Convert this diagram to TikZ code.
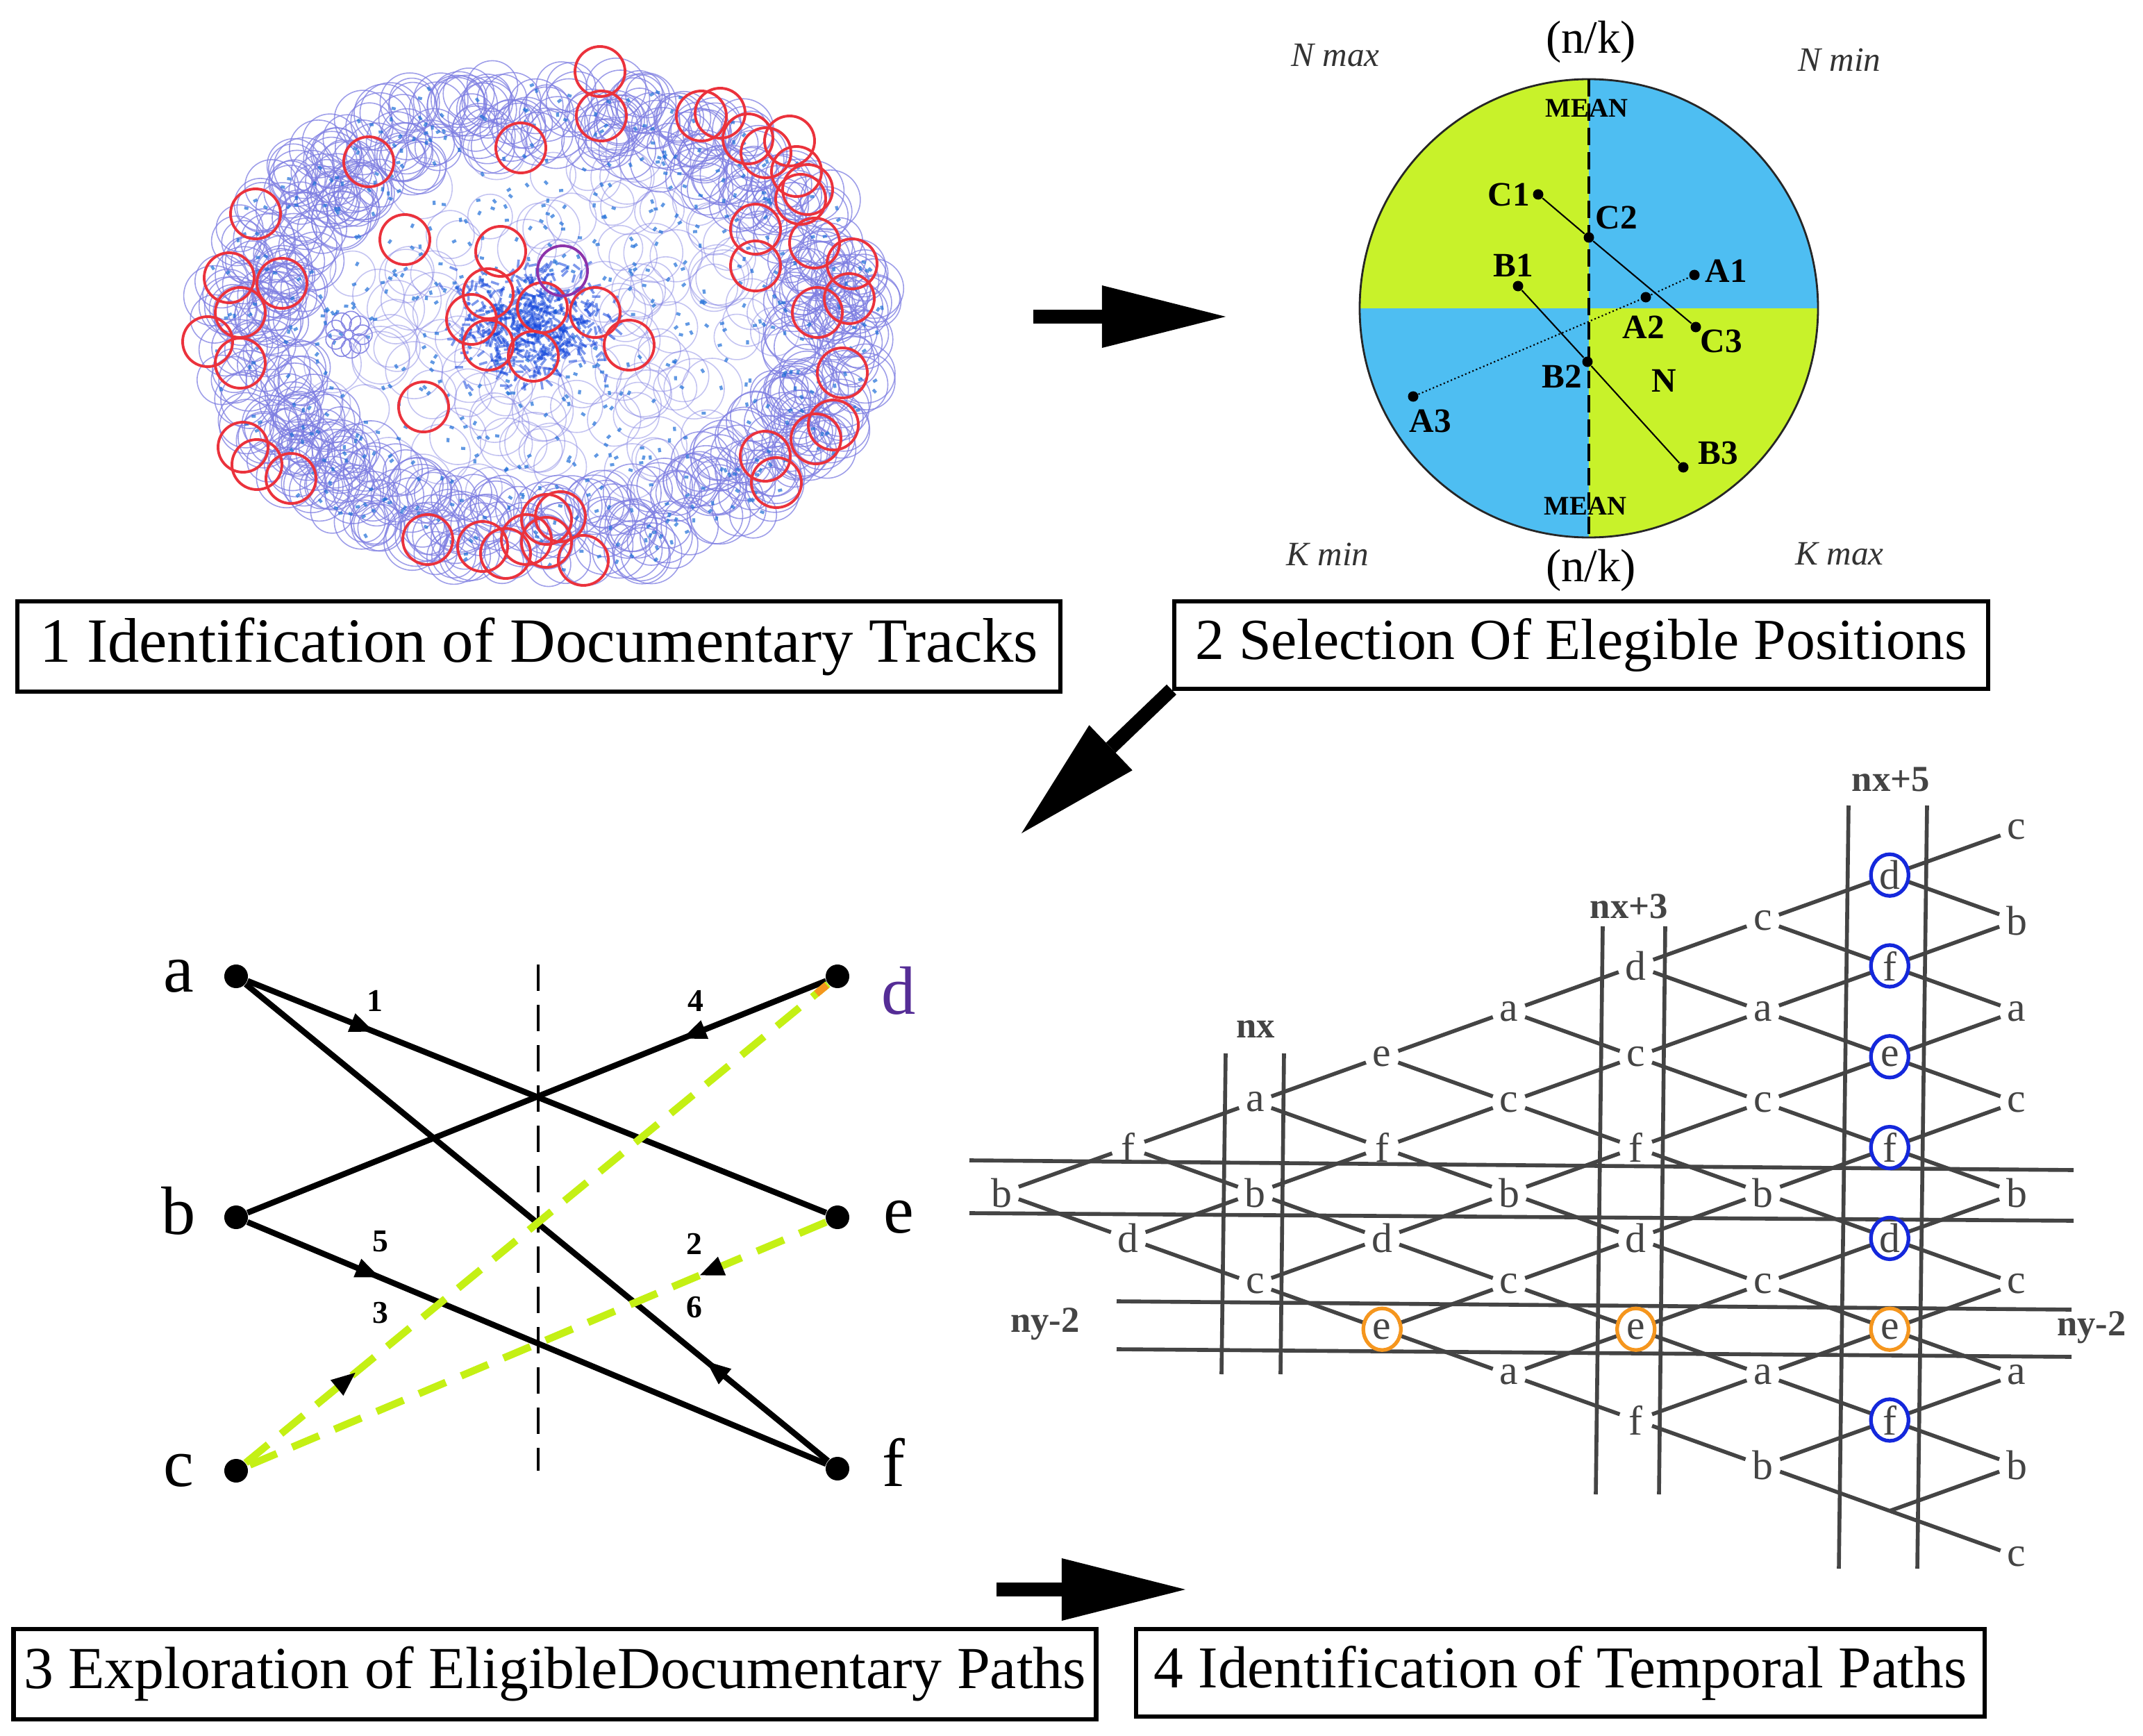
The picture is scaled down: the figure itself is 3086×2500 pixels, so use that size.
\documentclass[tikz,border=0pt]{standalone}
\usepackage{fontspec}
\setmainfont{Liberation Serif}
\usetikzlibrary{arrows.meta,decorations.markings,calc}

\definecolor{limeq}{RGB}{200,242,42}
\definecolor{skyq}{RGB}{78,190,242}
\definecolor{latgray}{RGB}{68,68,68}
\definecolor{ringlav}{RGB}{125,125,225}
\definecolor{specblue}{RGB}{30,110,215}
\definecolor{coreblue}{RGB}{20,70,220}
\definecolor{trackred}{RGB}{235,50,60}
\definecolor{trackpurple}{RGB}{140,50,170}
\definecolor{pathlime}{RGB}{196,240,20}
\definecolor{dviolet}{RGB}{85,45,150}
\definecolor{ringblue}{RGB}{20,40,220}
\definecolor{ringorange}{RGB}{245,150,30}

\tikzset{
  capbox/.style={draw, line width=1.8pt, inner sep=0pt, font=\fontsize{#1}{30}\selectfont},
  bigarrow/.style={line width=0.2cm, -{Triangle[length=1.78cm, width=0.9cm, line width=0pt]}},
  trackbg/.style={draw=ringlav, line width=0.45pt, draw opacity=0.75},
  speck/.style={line width=1.2pt, draw=specblue, draw opacity=0.7},
  corebit/.style={line width=1pt, draw=coreblue, draw opacity=0.55},
  trackring/.style={draw=trackred, line width=1.1pt},
  pdot/.style={circle, fill=black, inner sep=0pt, minimum size=0.15cm},
  plab/.style={font=\bfseries\fontsize{14}{14}\selectfont},
  pline/.style={line width=0.6pt},
  corner/.style={font=\itshape\fontsize{14}{14}\selectfont, text=black!80},
  ratio/.style={font=\fontsize{19}{19}\selectfont},
  meanlab/.style={font=\bfseries\fontsize{11}{11}\selectfont},
  gdot/.style={circle, fill=black, inner sep=0pt, minimum size=0.34cm},
  glab/.style={anchor=base, font=\fontsize{28}{28}\selectfont},
  numlab/.style={font=\bfseries\fontsize{13}{13}\selectfont},
  pathline/.style={line width=2.4pt},
  limepath/.style={line width=3pt, draw=pathlime, dash pattern=on 0.42cm off 0.24cm},
  midarr/.style={postaction={decorate, decoration={markings, mark=at position #1 with {\arrow[black]{Triangle[length=0.36cm, width=0.26cm]}}}}},
  latletter/.style={circle, inner sep=0pt, minimum size=0.48cm, text=latgray, font=\fontsize{17}{17}\selectfont},
  latline/.style={draw=latgray, line width=1.6pt},
  latlab/.style={text=latgray, font=\bfseries\fontsize{15}{15}\selectfont},
  bluering/.style={draw=ringblue, line width=1.5pt},
  orangering/.style={draw=ringorange, line width=1.5pt},
}

\begin{document}
\begin{tikzpicture}[x=0.01cm, y=-0.01cm]
\useasboundingbox (0,0) rectangle (3086,2500);

% 1: documentary tracks
\pgfmathsetseed{42}
\foreach \q in {1,...,560}{
  \pgfmathsetmacro{\ta}{360*rnd}
  \pgfmathsetmacro{\tr}{0.68+0.25*rnd}
  \pgfmathsetmacro{\tc}{30+14*rnd}
  \draw[trackbg] ({784+518*\tr*cos(\ta)},{467+378*\tr*sin(\ta)}) circle[radius=\tc];
}
\foreach \q in {1,...,120}{
  \pgfmathsetmacro{\ta}{360*rnd}
  \pgfmathsetmacro{\tr}{0.2+0.5*rnd}
  \pgfmathsetmacro{\tc}{30+14*rnd}
  \draw[trackbg, draw opacity=0.45] ({784+518*\tr*cos(\ta)},{467+378*\tr*sin(\ta)}) circle[radius=\tc];
}
\foreach \q in {1,...,650}{
  \pgfmathsetmacro{\ta}{360*rnd}
  \pgfmathsetmacro{\tr}{0.95*sqrt(rnd)}
  \pgfmathsetmacro{\tb}{360*rnd}
  \draw[speck] ({784+518*\tr*cos(\ta)},{467+378*\tr*sin(\ta)}) -- ++(\tb:6);
}
\foreach \q in {1,...,500}{
  \pgfmathsetmacro{\kx}{765+130*(rnd+rnd-1)}
  \pgfmathsetmacro{\ky}{470+95*(rnd+rnd-1)}
  \pgfmathsetmacro{\ka}{360*rnd}
  \draw[corebit] (\kx,\ky) -- ++(\ka:12);
}
\foreach \a in {0,40,...,320}
  \draw[trackbg, draw opacity=0.9] ($(502,482)+(\a:20)$) circle[radius=14];

\foreach \p in {(864,103),(866,167),(750,213),(531,233),(368,308),(583,345),(721,362),
  (330,400),(406,408),(346,450),(299,492),(346,523),(703,423),(679,460),(703,497),
  (781,443),(857,450),(768,513),(906,497),(1010,167),(1037,163),(1077,200),(1103,220),
  (1137,203),(1147,247),(1163,273),(1153,287),(1088,330),(1088,383),(1173,350),
  (1227,380),(1223,430),(1177,450),(1213,537),(1200,612),(1175,632),(1102,657),
  (1118,695),(350,644),(370,669),(419,689),(610,586),(616,777),(695,787),(728,797),
  (758,777),(787,748),(807,744),(787,781),(840,807)}
  \draw[trackring] \p circle[radius=36];
\draw[trackring, draw=trackpurple] (810,390) circle[radius=36];

% 2: elegible positions
\coordinate (qc) at (2288,444);
\begin{scope}
  \clip (qc) circle[radius=330];
  \fill[limeq] (qc) rectangle ++(-340,-340);
  \fill[skyq] (qc) rectangle ++(340,-340);
  \fill[skyq] (qc) rectangle ++(-340,340);
  \fill[limeq] (qc) rectangle ++(340,340);
\end{scope}
\draw[line width=0.8pt, black!85] (qc) circle[radius=330];
\draw[line width=1.1pt, dash pattern=on 0.25cm off 0.1cm] ($(qc)+(0,-330)$) -- ($(qc)+(0,330)$);

\node[meanlab] (mean1) at (2285,156) {MEAN};
\node[meanlab] (mean2) at (2283,729) {MEAN};
\node[ratio] (nk1) at (2291,60) {(n/k)};
\node[ratio] (nk2) at (2291,821) {(n/k)};
\node[corner] (nmax) at (1923,80) {N max};
\node[corner] (nmin) at (2649,86) {N min};
\node[corner] (kmin) at (1912,798) {K min};
\node[corner] (kmax) at (2649,798) {K max};

\node[pdot] (pC1) at (2215,280) {};
\node[pdot] (pC2) at (2288,342) {};
\node[pdot] (pC3) at (2442,471) {};
\node[pdot] (pB1) at (2186,412) {};
\node[pdot] (pB2) at (2286,521) {};
\node[pdot] (pB3) at (2424,673) {};
\node[pdot] (pA1) at (2440,396) {};
\node[pdot] (pA2) at (2370,428) {};
\node[pdot] (pA3) at (2035,571) {};
\draw[pline] (pC1) -- (pC2) -- (pC3);
\draw[pline] (pB1) -- (pB2) -- (pB3);
\draw[pline, densely dotted] (pA3) -- (pA2) -- (pA1);

\node[plab] (tC1) at (2173,280) {C1};
\node[plab] (tC2) at (2328,313) {C2};
\node[plab] (tB1) at (2179,382) {B1};
\node[plab] (tA1) at (2486,390) {A1};
\node[plab] (tA2) at (2367,471) {A2};
\node[plab] (tC3) at (2479,491) {C3};
\node[plab] (tB2) at (2249,542) {B2};
\node[plab] (tN) at (2396,548) {N};
\node[plab] (tA3) at (2060,606) {A3};
\node[plab] (tB3) at (2474,652) {B3};

% 3: documentary paths
\node[gdot] (ga) at (340,1406) {};
\node[gdot] (gb) at (340,1753) {};
\node[gdot] (gc) at (340,2118) {};
\node[gdot] (gd) at (1206,1406) {};
\node[gdot] (ge) at (1206,1753) {};
\node[gdot] (gf) at (1206,2115) {};
\node[glab] (la) at (257,1428) {a};
\node[glab] (lb) at (257,1777) {b};
\node[glab] (lc) at (257,2140) {c};
\node[glab, text=dviolet] (ld) at (1294,1460) {d};
\node[glab] (le) at (1294,1775) {e};
\node[glab] (lf) at (1287,2140) {f};

\coordinate (gtop) at (775,1389);
\coordinate (gbot) at (775,2118);
\draw[line width=1.2pt, dash pattern=on 0.38cm off 0.2cm] (gtop) -- (gbot);

\draw[pathline, midarr=0.22] (ga) -- (ge);
\draw[pathline, midarr=0.21] (gf) -- (ga);
\draw[pathline, midarr=0.25] (gd) -- (gb);
\draw[pathline, midarr=0.23] (gb) -- (gf);
\draw[limepath, midarr=0.19] (gc) -- (gd);
\draw[limepath, midarr=0.22] (ge) -- (gc);
\draw[line width=3pt, ringorange] ($(gc)!0.965!(gd)$) -- ($(gc)!0.982!(gd)$);

\node[numlab] (n1) at (540,1441) {1};
\node[numlab] (n2) at (1000,1791) {2};
\node[numlab] (n3) at (548,1891) {3};
\node[numlab] (n4) at (1002,1441) {4};
\node[numlab] (n5) at (548,1788) {5};
\node[numlab] (n6) at (1000,1883) {6};

% 4: temporal paths
\draw[latline] (1765,1517) -- (1759,1979);
\draw[latline] (1849,1517) -- (1844,1979);
\draw[latline] (2308,1334) -- (2298,2152);
\draw[latline] (2398,1334) -- (2389,2152);
\draw[latline] (2662,1160) -- (2648,2259);
\draw[latline] (2775,1160) -- (2761,2259);
\draw[latline] (1396,1671) -- (2986,1685);
\draw[latline] (1396,1747) -- (2986,1758);
\draw[latline] (1608,1874) -- (2983,1886);
\draw[latline] (1608,1943) -- (2983,1954);

\foreach \i/\lets in {1/{b},2/{f,d},3/{a,b,c},4/{e,f,d,e},5/{a,c,b,c,a},6/{d,c,f,d,e,f},
  7/{c,a,c,b,c,a,b},8/{d,f,e,f,d,e,f},9/{c,b,a,c,b,c,a,b,c}}{
  \foreach \l [count=\m] in \lets {
    \node[latletter] (L-\i-\m) at ({1442+182.75*(\i-1)},{1718+65.4*(2*\m-\i-1)}) {\l};
  }
}
\coordinate (L-8-8) at ({1442+182.75*7},{1718+65.4*7});

\foreach \i in {1,...,8}{
  \pgfmathtruncatemacro{\j}{\i+1}
  \foreach \m in {1,...,\i}{
    \pgfmathtruncatemacro{\n}{\m+1}
    \draw[latline] (L-\i-\m) -- (L-\j-\m);
    \draw[latline] (L-\i-\m) -- (L-\j-\n);
  }
}

\foreach \m in {1,2,3,4,5,7}
  \draw[bluering] (L-8-\m) ellipse[x radius=27, y radius=30];
\draw[orangering] (L-4-4) ellipse[x radius=27, y radius=30];
\draw[orangering] (L-6-5) ellipse[x radius=27, y radius=30];
\draw[orangering] (L-8-6) ellipse[x radius=27, y radius=30];

\node[latlab] (nx0) at (1808,1482) {nx};
\node[latlab] (nx3) at (2346,1305) {nx+3};
\node[latlab] (nx5) at (2723,1122) {nx+5};
\node[latlab] (ny1) at (1505,1907) {ny-2};
\node[latlab] (ny2) at (3012,1912) {ny-2};

% captions and arrows
\node[capbox=25.8, minimum width=15.01cm, minimum height=1.3cm] (cap1) at (776,931) {1 Identification of Documentary Tracks};
\node[capbox=23.8, minimum width=11.71cm, minimum height=1.26cm] (cap2) at (2277,929) {2 Selection Of Elegible Positions};
\node[capbox=24.4, minimum width=15.58cm, minimum height=1.3cm] (cap3) at (799,2411) {3 Exploration of EligibleDocumentary Paths};
\node[capbox=24.3, minimum width=12.21cm, minimum height=1.26cm] (cap4) at (2247,2409) {4 Identification of Temporal Paths};

\coordinate (ar1s) at (1488,456);
\coordinate (ar1e) at (1765,456);
\coordinate (ar2s) at (1687,993);
\coordinate (ar2e) at (1471,1200);
\coordinate (ar3s) at (1435,2289);
\coordinate (ar3e) at (1707,2289);
\draw[bigarrow] (ar1s) -- (ar1e);
\draw[bigarrow] (ar2s) -- (ar2e);
\draw[bigarrow] (ar3s) -- (ar3e);

\end{tikzpicture}
\end{document}
